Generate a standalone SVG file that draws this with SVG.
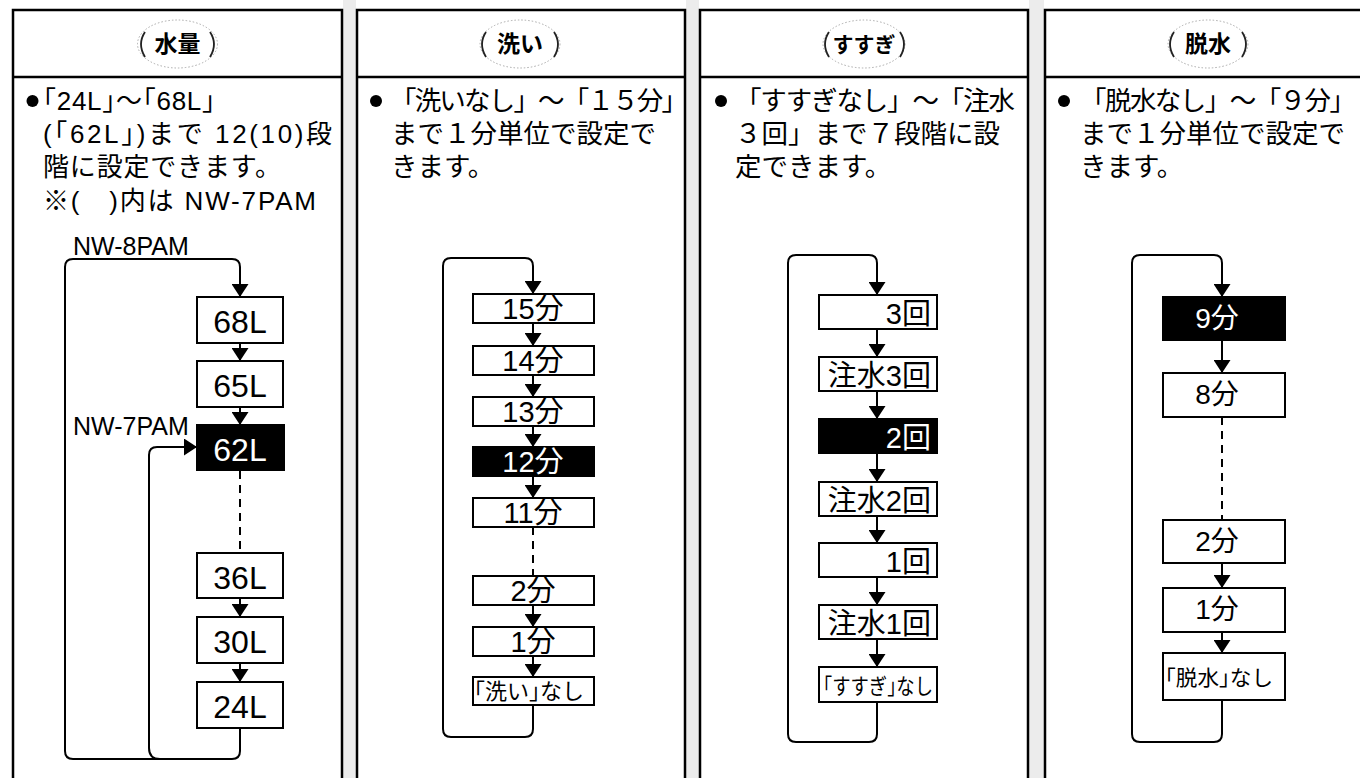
<svg xmlns="http://www.w3.org/2000/svg" width="1360" height="778" viewBox="0 0 1360 778">
<defs>
<marker id="ah" markerUnits="userSpaceOnUse" markerWidth="13" markerHeight="17" refX="13" refY="8.5" orient="auto">
<path d="M0,0 L13,8.5 L0,17 z" fill="#000"/>
</marker>
<style>
.panel{fill:#fff;stroke:#000;stroke-width:2.5}
.div{stroke:#000;stroke-width:2.5}
.gap{fill:#ececec}
.ttl{font-family:"Noto Sans CJK JP","Noto Sans CJK SC",sans-serif;font-weight:bold;font-size:23px;text-anchor:middle;fill:#000}
.ell{fill:none;stroke:#aaa;stroke-width:1;stroke-dasharray:1.5 2}
.par{fill:none;stroke:#222;stroke-width:1.8}
.body{font-family:"Noto Sans CJK JP","Noto Sans CJK SC",sans-serif;font-size:26.5px;fill:#000}
.b1{font-family:"Liberation Sans","Noto Sans CJK JP",sans-serif;font-size:26px}
.lbl{font-family:"Liberation Sans",Arial,sans-serif;font-size:25px;fill:#000}
.box{fill:#fff;stroke:#000;stroke-width:2}
.boxk{fill:#000;stroke:#000;stroke-width:2}
.t{font-family:"Liberation Sans","Noto Sans CJK JP",sans-serif;fill:#000;text-anchor:middle}
.tw{fill:#fff}
.t1{font-size:32px}
.t2{font-size:29px}
.t3{font-size:29px;text-anchor:end}
.t4{font-size:28px}
.ts{font-family:"Noto Sans CJK JP","Noto Sans CJK SC",sans-serif;font-size:22px;fill:#000}
.ln{fill:none;stroke:#000;stroke-width:2}
.dash{stroke-dasharray:8 6}
</style>
</defs>
<rect x="0" y="0" width="1360" height="778" fill="#fff"/>
<rect class="gap" x="343" y="0" width="13" height="778"/>
<rect class="gap" x="686" y="0" width="13" height="778"/>
<rect class="gap" x="1029" y="0" width="15" height="778"/>

<!-- Panel 1 -->
<g id="panel1">
<rect class="panel" x="13" y="10" width="329" height="800"/>
<line class="div" x1="13" y1="77" x2="342" y2="77"/>
<ellipse class="ell" cx="177.5" cy="44" rx="40" ry="24"/>
<path class="par" d="M145,32 Q137,44 145,57"/>
<path class="par" d="M210,32 Q218,44 210,57"/>
<text class="ttl" x="177.5" y="52">水量</text>
<circle cx="32.5" cy="101" r="6"/>
<text class="body b1" x="43" y="110" textLength="172" lengthAdjust="spacing">｢24L｣～｢68L｣</text>
<text class="body b1" x="43" y="143" textLength="289" lengthAdjust="spacing">(｢62L｣)まで 12(10)段</text>
<text class="body b1" x="43" y="176" textLength="238" lengthAdjust="spacing">階に設定できます。</text>
<text class="body b1" x="43" y="210" textLength="273" lengthAdjust="spacing">※(　)内は NW-7PAM</text>
<text class="lbl" x="73" y="255">NW-8PAM</text>
<text class="lbl" x="73" y="435">NW-7PAM</text>
</g>
<g id="n68L"><rect class="box" x="197" y="297" width="86" height="46"/><text class="t t1" x="240" y="333">68L</text></g>
<g id="n65L"><rect class="box" x="197" y="361" width="86" height="46"/><text class="t t1" x="240" y="397">65L</text></g>
<g id="n62L"><rect class="boxk" x="197" y="425" width="87" height="45"/><text class="t t1 tw" x="240" y="461">62L</text></g>
<g id="n36L"><rect class="box" x="197" y="553" width="86" height="45"/><text class="t t1" x="240" y="589">36L</text></g>
<g id="n30L"><rect class="box" x="197" y="617" width="86" height="46"/><text class="t t1" x="240" y="653">30L</text></g>
<g id="n24L"><rect class="box" x="197" y="682" width="86" height="46"/><text class="t t1" x="240" y="718">24L</text></g>

<!-- Panel 2 -->
<g id="panel2">
<rect class="panel" x="357" y="10" width="328" height="800"/>
<line class="div" x1="357" y1="77" x2="685" y2="77"/>
<ellipse class="ell" cx="520" cy="44" rx="40" ry="24"/>
<path class="par" d="M486,32 Q478,44 486,57"/>
<path class="par" d="M554,32 Q562,44 554,57"/>
<text class="ttl" x="520" y="52">洗い</text>
<circle cx="376" cy="101" r="6"/>
<text class="body" x="390" y="110" textLength="298" lengthAdjust="spacing">「洗いなし」～「１５分」</text>
<text class="body" x="391" y="143">まで１分単位で設定で</text>
<text class="body" x="391" y="176">きます。</text>
</g>
<g id="n15"><rect class="box" x="473" y="294" width="121" height="29"/><text class="t t2" x="533" y="319">15分</text></g>
<g id="n14"><rect class="box" x="473" y="346" width="121" height="29"/><text class="t t2" x="533" y="371">14分</text></g>
<g id="n13"><rect class="box" x="473" y="397" width="121" height="29"/><text class="t t2" x="533" y="422">13分</text></g>
<g id="n12"><rect class="boxk" x="473" y="447" width="121" height="29"/><text class="t t2 tw" x="533" y="472">12分</text></g>
<g id="n11"><rect class="box" x="473" y="498" width="121" height="29"/><text class="t t2" x="533" y="523">11分</text></g>
<g id="n2w"><rect class="box" x="473" y="576" width="121" height="29"/><text class="t t2" x="533" y="601">2分</text></g>
<g id="n1w"><rect class="box" x="473" y="627" width="121" height="29"/><text class="t t2" x="533" y="652">1分</text></g>
<g id="n0w"><rect class="box" x="473" y="677" width="121" height="28"/><text class="ts" x="474" y="699" textLength="110" lengthAdjust="spacingAndGlyphs">｢洗い｣なし</text></g>

<!-- Panel 3 -->
<g id="panel3">
<rect class="panel" x="700" y="10" width="328" height="800"/>
<line class="div" x1="700" y1="77" x2="1028" y2="77"/>
<ellipse class="ell" cx="864" cy="44" rx="41" ry="24"/>
<path class="par" d="M829,32 Q821,44 829,57"/>
<path class="par" d="M900,32 Q908,44 900,57"/>
<text class="ttl" x="864" y="52" style="font-size:21px">すすぎ</text>
<circle cx="721" cy="101" r="6"/>
<text class="body" x="735" y="110" textLength="280" lengthAdjust="spacing">「すすぎなし」～「注水</text>
<text class="body" x="735" y="143">３回」まで７段階に設</text>
<text class="body" x="735" y="176">定できます。</text>
</g>
<g id="r3"><rect class="box" x="819" y="295" width="118" height="34"/><text class="t t3" x="931" y="324">3回</text></g>
<g id="r3w"><rect class="box" x="819" y="357" width="118" height="34"/><text class="t t3" x="931" y="386">注水3回</text></g>
<g id="r2"><rect class="boxk" x="819" y="419" width="118" height="34"/><text class="t t3 tw" x="931" y="448">2回</text></g>
<g id="r2w"><rect class="box" x="819" y="482" width="118" height="34"/><text class="t t3" x="931" y="511">注水2回</text></g>
<g id="r1"><rect class="box" x="819" y="543" width="118" height="34"/><text class="t t3" x="931" y="572">1回</text></g>
<g id="r1w"><rect class="box" x="819" y="605" width="118" height="34"/><text class="t t3" x="931" y="634">注水1回</text></g>
<g id="r0"><rect class="box" x="819" y="667" width="118" height="35"/><text class="ts" x="823" y="694" textLength="110" lengthAdjust="spacingAndGlyphs">｢すすぎ｣なし</text></g>

<!-- Panel 4 -->
<g id="panel4">
<rect class="panel" x="1045" y="10" width="330" height="800"/>
<line class="div" x1="1045" y1="77" x2="1375" y2="77"/>
<ellipse class="ell" cx="1208" cy="44" rx="40" ry="24"/>
<path class="par" d="M1174,32 Q1166,44 1174,57"/>
<path class="par" d="M1242,32 Q1250,44 1242,57"/>
<text class="ttl" x="1208" y="52">脱水</text>
<circle cx="1064" cy="101" r="6"/>
<text class="body" x="1080" y="110" textLength="276" lengthAdjust="spacing">「脱水なし」～「９分」</text>
<text class="body" x="1080" y="143">まで１分単位で設定で</text>
<text class="body" x="1080" y="176">きます。</text>
</g>
<g id="s9"><rect class="boxk" x="1163" y="297" width="122" height="43"/><text class="t t4 tw" x="1217" y="328">9分</text></g>
<g id="s8"><rect class="box" x="1163" y="373" width="122" height="44"/><text class="t t4" x="1217" y="404">8分</text></g>
<g id="s2"><rect class="box" x="1163" y="520" width="122" height="43"/><text class="t t4" x="1217" y="551">2分</text></g>
<g id="s1"><rect class="box" x="1163" y="588" width="122" height="44"/><text class="t t4" x="1217" y="619">1分</text></g>
<g id="s0"><rect class="box" x="1163" y="653" width="122" height="47"/><text class="ts" x="1165" y="685" style="font-size:21px" textLength="108" lengthAdjust="spacingAndGlyphs">｢脱水｣なし</text></g>

<!-- Connectors -->
<g id="connectors">
<path class="ln" marker-end="url(#ah)" d="M240,728 L240,751 Q240,759 232,759 L73,759 Q65,759 65,751 L65,267 Q65,259 73,259 L232,259 Q240,259 240,267 L240,297"/>
<path class="ln" marker-end="url(#ah)" d="M160,759 Q149,759 149,748 L149,455 Q149,447 157,447 L197,447"/>
<path class="ln" marker-end="url(#ah)" d="M240,343 L240,361"/>
<path class="ln" marker-end="url(#ah)" d="M240,407 L240,425"/>
<path class="ln dash" d="M240,471 L240,553"/>
<path class="ln" marker-end="url(#ah)" d="M240,598 L240,617"/>
<path class="ln" marker-end="url(#ah)" d="M240,663 L240,682"/>

<path class="ln" marker-end="url(#ah)" d="M533,705 L533,729 Q533,737 525,737 L451,737 Q443,737 443,729 L443,266 Q443,258 451,258 L525,258 Q533,258 533,266 L533,294"/>
<path class="ln" marker-end="url(#ah)" d="M533,323 L533,346"/>
<path class="ln" marker-end="url(#ah)" d="M533,375 L533,397"/>
<path class="ln" marker-end="url(#ah)" d="M533,426 L533,447"/>
<path class="ln" marker-end="url(#ah)" d="M533,476 L533,498"/>
<path class="ln dash" d="M533,527 L533,576"/>
<path class="ln" marker-end="url(#ah)" d="M533,605 L533,627"/>
<path class="ln" marker-end="url(#ah)" d="M533,656 L533,677"/>

<path class="ln" marker-end="url(#ah)" d="M877,702 L877,734 Q877,742 869,742 L796,742 Q788,742 788,734 L788,263 Q788,255 796,255 L869,255 Q877,255 877,263 L877,295"/>
<path class="ln" marker-end="url(#ah)" d="M877,329 L877,357"/>
<path class="ln" marker-end="url(#ah)" d="M877,391 L877,419"/>
<path class="ln" marker-end="url(#ah)" d="M877,453 L877,482"/>
<path class="ln" marker-end="url(#ah)" d="M877,516 L877,543"/>
<path class="ln" marker-end="url(#ah)" d="M877,577 L877,605"/>
<path class="ln" marker-end="url(#ah)" d="M877,639 L877,667"/>

<path class="ln" marker-end="url(#ah)" d="M1222,700 L1222,734 Q1222,742 1214,742 L1140,742 Q1132,742 1132,734 L1132,263 Q1132,255 1140,255 L1214,255 Q1222,255 1222,263 L1222,297"/>
<path class="ln" marker-end="url(#ah)" d="M1222,340 L1222,373"/>
<path class="ln dash" d="M1222,417 L1222,520"/>
<path class="ln" marker-end="url(#ah)" d="M1222,563 L1222,588"/>
<path class="ln" marker-end="url(#ah)" d="M1222,632 L1222,653"/>
</g>
</svg>
